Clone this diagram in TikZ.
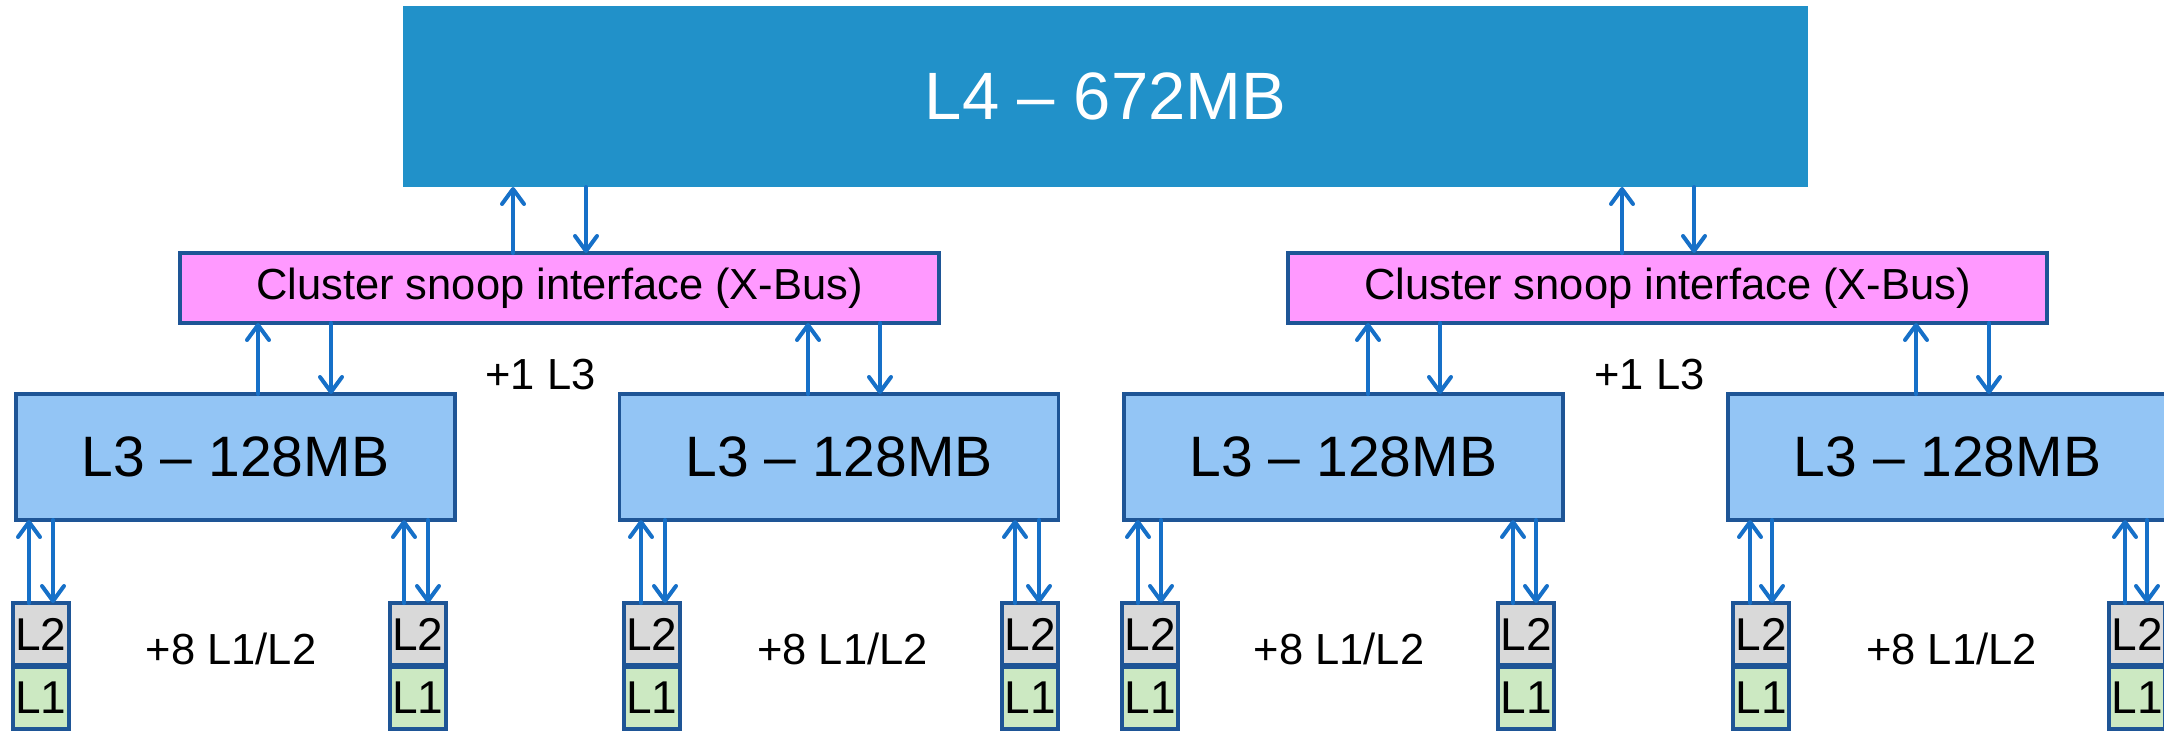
\documentclass[tikz,border=0pt]{standalone}
\usepackage{fontspec}
\setmainfont{Liberation Sans}
\usetikzlibrary{arrows.meta}
\definecolor{lfour}{RGB}{33,145,201}
\definecolor{pinkbus}{RGB}{255,153,255}
\definecolor{lthree}{RGB}{147,197,245}
\definecolor{ltwo}{RGB}{217,217,217}
\definecolor{lone}{RGB}{204,233,194}
\definecolor{edgeblue}{RGB}{30,85,150}
\definecolor{arrowblue}{RGB}{22,112,200}
\begin{document}
\begin{tikzpicture}[x=1pt,y=-1pt,
  box/.style={rectangle, inner sep=0pt, outer sep=0pt, line width=3.2pt, draw=edgeblue},
  l4box/.style={rectangle, inner sep=0pt, outer sep=0pt, fill=lfour, text=white,
    minimum width=1405pt, minimum height=181pt, font=\fontsize{67}{80}\selectfont},
  busbox/.style={box, fill=pinkbus, minimum width=759pt, minimum height=70pt,
    font=\fontsize{43.5}{52}\selectfont},
  l3box/.style={box, fill=lthree, minimum width=439pt, minimum height=126pt,
    font=\fontsize{57}{68}\selectfont},
  l2box/.style={box, fill=ltwo, minimum width=56pt, minimum height=62pt,
    font=\fontsize{46}{55}\selectfont},
  l1box/.style={box, fill=lone, minimum width=56pt, minimum height=62pt,
    font=\fontsize{46}{55}\selectfont},
  lbl/.style={anchor=base, inner sep=0pt, font=\fontsize{43.5}{52}\selectfont},
  link/.style={draw=arrowblue, line width=4pt, line cap=round,
    -{Straight Barb[length=15pt,width=22pt,round]}},
]
\useasboundingbox (0,0) rectangle (2164,736);
\fill[white] (0,0) rectangle (2164,736);
\clip (0,0) rectangle (2164,736);

% L4
\node[l4box] (L4) at (1105.5,96.5) {L4 – 672MB};

% cluster buses
\node[busbox] (X1) at (559.5,288) {Cluster snoop interface (X-Bus)};
\node[busbox] (X2) at (1667.5,288) {Cluster snoop interface (X-Bus)};

% L3 caches
\node[l3box] (L3a) at (235.5,457) {L3 – 128MB};
\node[l3box] (L3b) at (839,457) {L3 – 128MB};
\node[l3box] (L3c) at (1343.5,457) {L3 – 128MB};
\node[l3box] (L3d) at (1947.5,457) {L3 – 128MB};

% labels
\node[lbl] (p1a) at (540.5,389) {+1 L3};
\node[lbl] (p1b) at (1649.5,389) {+1 L3};
\node[lbl] (p8a) at (231,664) {+8 L1/L2};
\node[lbl] (p8b) at (842.5,664) {+8 L1/L2};
\node[lbl] (p8c) at (1339,664) {+8 L1/L2};
\node[lbl] (p8d) at (1951.5,664) {+8 L1/L2};

% L2 / L1 cores
\foreach \i/\xl in {a/13,b/390,c/624,d/1002,e/1122,f/1498,g/1733,h/2109}{
  \node[l2box] (L2\i) at (\xl+28,634) {L2};
  \node[l1box] (L1\i) at (\xl+28,698) {L1};
}

% L4 <-> buses
\draw[link] (X1.north -| 513,0) -- (L4.south -| 513,0);
\draw[link] (L4.south -| 586,0) -- (X1.north -| 586,0);
\draw[link] (X2.north -| 1622,0) -- (L4.south -| 1622,0);
\draw[link] (L4.south -| 1694,0) -- (X2.north -| 1694,0);

% buses <-> L3
\foreach \x/\l/\u/\d in {X1/L3a/258/331, X1/L3b/808/880, X2/L3c/1368/1440, X2/L3d/1916/1989}{
  \draw[link] (\l.north -| \u,0) -- (\x.south -| \u,0);
  \draw[link] (\x.south -| \d,0) -- (\l.north -| \d,0);
}

% L3 <-> L2
\foreach \i/\l/\u/\d in {a/L3a/29/53, b/L3a/404/428, c/L3b/641/665, d/L3b/1015/1039,
                         e/L3c/1138/1161, f/L3c/1513/1536, g/L3d/1750/1772, h/L3d/2125/2147}{
  \draw[link] (L2\i.north -| \u,0) -- (\l.south -| \u,0);
  \draw[link] (\l.south -| \d,0) -- (L2\i.north -| \d,0);
}
\end{tikzpicture}
\end{document}
